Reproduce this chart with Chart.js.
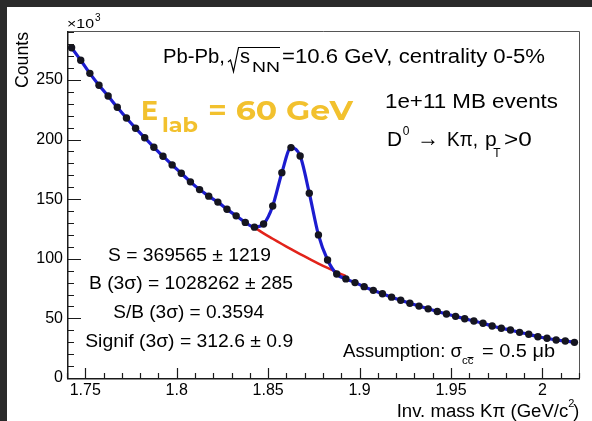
<!DOCTYPE html>
<html><head><meta charset="utf-8">
<script src="https://cdn.jsdelivr.net/npm/chart.js@4.4.0/dist/chart.umd.min.js"></script>
<style>
html,body{margin:0;padding:0;background:#2a2a2a;width:592px;height:421px;overflow:hidden}
#wrap{position:absolute;left:7px;top:7px;width:585px;height:414px;background:#fff}
canvas{display:block}
</style></head><body>
<div id="wrap"><canvas id="c" width="585" height="414"></canvas></div>
<script>
// ---- data (Counts in units of 10^3) ----
const binCenters = [1.7425,1.7475,1.7525,1.7575,1.7625,1.7675,1.7725,1.7775,1.7825,1.7875,
  1.7925,1.7975,1.8025,1.8075,1.8125,1.8175,1.8225,1.8275,1.8325,1.8375,
  1.8425,1.8475,1.8525,1.8575,1.8625,1.8675,1.8725,1.8775,1.8825,1.8875,
  1.8925,1.8975,1.9025,1.9075,1.9125,1.9175,1.9225,1.9275,1.9325,1.9375,
  1.9425,1.9475,1.9525,1.9575,1.9625,1.9675,1.9725,1.9775,1.9825,1.9875,
  1.9925,1.9975,2.0025,2.0075,2.0125,2.0175];
const counts = [277,266.5,255.5,245.5,236.5,227,218,209.5,201.5,193.5,
  186,178.7,171.7,164.5,158,152.5,147.5,141.5,136,130.5,
  126.5,129.2,144.3,172.2,193.2,186.2,155,120,99,87.2,
  83.1,80,76.6,73.5,70.6,67.8,65.2,62.7,60.3,58.0,
  55.8,53.7,51.7,49.7,47.8,45.9,43.6,41.7,40.3,38.3,
  36.7,34.6,33.3,31.9,31.0,29.9];
const bkgCenters = [1.8425,1.8475,1.8525,1.8575,1.8625,1.8675,1.8725,1.8775,1.8825,1.8875,1.8925];
const bkgCounts = [126.3,121.3,116.8,112.4,108.1,103.9,99.9,96,92.3,88.8,85.5];
const xTickLabels = [1.75,1.8,1.85,1.9,1.95,2];
const yTickLabels = [0,50,100,150,200,250];
const xRange = [1.74, 2.02];
const yRange = [0, 291];

const HF = '"Liberation Sans", Arial, Helvetica, sans-serif';
const BF = 'Montserrat, Inter, "Open Sans", Lato, sans-serif';

function seg(ctx, text, x, y, font, w, align) {
  ctx.font = font;
  const nat = ctx.measureText(text).width;
  const s = w ? w / nat : 1;
  ctx.save();
  ctx.translate(x, y);
  ctx.scale(s, 1);
  ctx.textAlign = align || 'left';
  ctx.textBaseline = 'alphabetic';
  ctx.fillText(text, 0, 0);
  ctx.restore();
}

const decor = {
  id: 'decor',
  afterDraw(chart) {
    const ctx = chart.ctx;
    const xs = chart.scales.x, ys = chart.scales.y;
    const a = chart.chartArea;
    ctx.save();
    // frame top/right
    ctx.strokeStyle = '#555';
    ctx.lineWidth = 1;
    ctx.beginPath();
    ctx.moveTo(a.left, a.top + 0.5); ctx.lineTo(a.right + 0.5, a.top + 0.5); ctx.lineTo(a.right + 0.5, a.bottom);
    ctx.stroke();
    // axes
    ctx.strokeStyle = '#1a1a1a';
    ctx.lineWidth = 1.5;
    ctx.beginPath();
    ctx.moveTo(a.left + 0.75, a.top); ctx.lineTo(a.left + 0.75, a.bottom + 0.75); ctx.lineTo(a.right + 1, a.bottom + 0.75);
    ctx.stroke();
    // y ticks
    ctx.lineWidth = 1.2;
    ctx.beginPath();
    for (let v = 0; v <= yRange[1]; v += 10) {
      const py = Math.round(ys.getPixelForValue(v)) + 0.5;
      const len = (v % 50 === 0) ? 14 : 7;
      ctx.moveTo(a.left, py); ctx.lineTo(a.left + len, py);
    }
    // x ticks
    for (let i = 174; i <= 202; i++) {
      const v = i / 100;
      const px = Math.round(xs.getPixelForValue(v)) + 0.5;
      const len = (i % 5 === 0) ? 10 : 5;
      ctx.moveTo(px, a.bottom); ctx.lineTo(px, a.bottom - len);
    }
    ctx.stroke();

    // texts (page coordinates)
    ctx.translate(-7, -7);
    ctx.fillStyle = '#000';
    seg(ctx, '\u00d710', 67, 28, '13px ' + HF, 27);
    seg(ctx, '3', 95, 21, '10px ' + HF);
    // Counts
    ctx.save();
    ctx.translate(28, 60);
    ctx.rotate(-Math.PI / 2);
    seg(ctx, 'Counts', 0, 0, '19px ' + HF, 56, 'center');
    ctx.restore();
    // header line
    seg(ctx, 'Pb-Pb,', 163, 62.7, '20px ' + HF, 62);
    ctx.strokeStyle = '#000'; ctx.lineWidth = 1.2;
    ctx.beginPath();
    ctx.moveTo(228, 62); ctx.lineTo(230.5, 60); ctx.lineTo(233.5, 71.5); ctx.lineTo(238.5, 47.5); ctx.lineTo(280, 47.5);
    ctx.stroke();
    seg(ctx, 's', 240, 62.7, '20px ' + HF);
    seg(ctx, 'NN', 252, 71.5, '14px ' + HF, 28);
    seg(ctx, '=10.6 GeV, centrality 0-5%', 282, 62.7, '20px ' + HF, 263);
    seg(ctx, '1e+11 MB events', 385, 108.3, '21px ' + HF, 173);
    seg(ctx, 'D', 387, 146, '21px ' + HF, 15);
    seg(ctx, '0', 402.7, 135, '12px ' + HF);
    seg(ctx, '\u2192', 417, 146, '24px ' + HF, 22);
    seg(ctx, 'K\u03c0,', 447, 146, '21px ' + HF, 31);
    seg(ctx, 'p', 485, 146, '21px ' + HF);
    seg(ctx, 'T', 493.3, 156.7, '12px ' + HF);
    seg(ctx, '>0', 504, 146, '21px ' + HF, 27.7);
    // E_lab
    ctx.fillStyle = '#F2C12E';
    seg(ctx, 'E', 141, 120, 'bold 28px ' + BF, 17);
    seg(ctx, 'lab', 162, 131.5, 'bold 20px ' + BF, 36);
    seg(ctx, '= 60 GeV', 208, 120, 'bold 28px ' + BF, 145);
    ctx.fillStyle = '#000';
    // stats
    seg(ctx, 'S = 369565 \u00b1 1219', 189.5, 261, '19px ' + HF, 163, 'center');
    seg(ctx, 'B (3\u03c3) = 1028262 \u00b1 285', 191, 288.5, '19px ' + HF, 204, 'center');
    seg(ctx, 'S/B (3\u03c3) = 0.3594', 188.7, 318, '19px ' + HF, 151, 'center');
    seg(ctx, 'Signif (3\u03c3) = 312.6 \u00b1 0.9', 189.2, 346.7, '19px ' + HF, 208, 'center');
    // assumption
    seg(ctx, 'Assumption: \u03c3', 343, 356.7, '18px ' + HF, 119);
    seg(ctx, 'cc', 462, 364, '11px ' + HF, 11.5);
    ctx.lineWidth = 1;
    ctx.beginPath(); ctx.moveTo(467.5, 357.5); ctx.lineTo(473.5, 357.5); ctx.stroke();
    seg(ctx, '= 0.5 \u03bcb', 482, 356.7, '18px ' + HF, 73);
    // x title
    seg(ctx, 'Inv. mass K\u03c0 (GeV/c', 396.7, 417.3, '18px ' + HF, 171.6);
    seg(ctx, '2', 568.3, 407, '11px ' + HF);
    seg(ctx, ')', 573.3, 417.3, '18px ' + HF);
    ctx.restore();
  }
};

const pts = binCenters.map((x, i) => ({x, y: counts[i]}));
const bkg = bkgCenters.map((x, i) => ({x, y: bkgCounts[i]}));

new Chart(document.getElementById('c'), {
  type: 'scatter',
  data: {
    datasets: [
      { data: bkg, showLine: true, borderColor: '#e2231a', borderWidth: 2.5, pointRadius: 0, tension: 0.4, order: 3 },
      { data: pts, showLine: true, borderColor: '#1c1cd0', borderWidth: 3.2, pointRadius: 0, cubicInterpolationMode: 'monotone', order: 2 },
      { data: pts, showLine: false, pointRadius: 3.7, pointBackgroundColor: '#151520', pointBorderColor: '#151520', pointBorderWidth: 0, order: 1 }
    ]
  },
  options: {
    responsive: false,
    animation: false,
    devicePixelRatio: 1,
    layout: { padding: { top: 24, right: 13, left: 0, bottom: 0 } },
    plugins: { legend: { display: false }, tooltip: { enabled: false } },
    scales: {
      x: {
        type: 'linear', min: xRange[0], max: xRange[1],
        grid: { display: false, drawTicks: false }, border: { display: false },
        afterBuildTicks: (ax) => { ax.ticks = xTickLabels.map(v => ({ value: v })); },
        afterFit: (ax) => { ax.height = 43; },
        ticks: { autoSkip: false, maxRotation: 0, padding: 3, color: '#000', font: { family: HF, size: 16 },
          callback: (v) => String(v) }
      },
      y: {
        type: 'linear', min: yRange[0], max: yRange[1],
        grid: { display: false, drawTicks: false }, border: { display: false },
        afterBuildTicks: (ax) => { ax.ticks = yTickLabels.map(v => ({ value: v })); },
        afterFit: (ax) => { ax.width = 60; },
        ticks: { padding: 4, color: '#000', font: { family: HF, size: 16 }, callback: (v) => String(v) }
      }
    }
  },
  plugins: [decor]
});
</script>
</body></html>
